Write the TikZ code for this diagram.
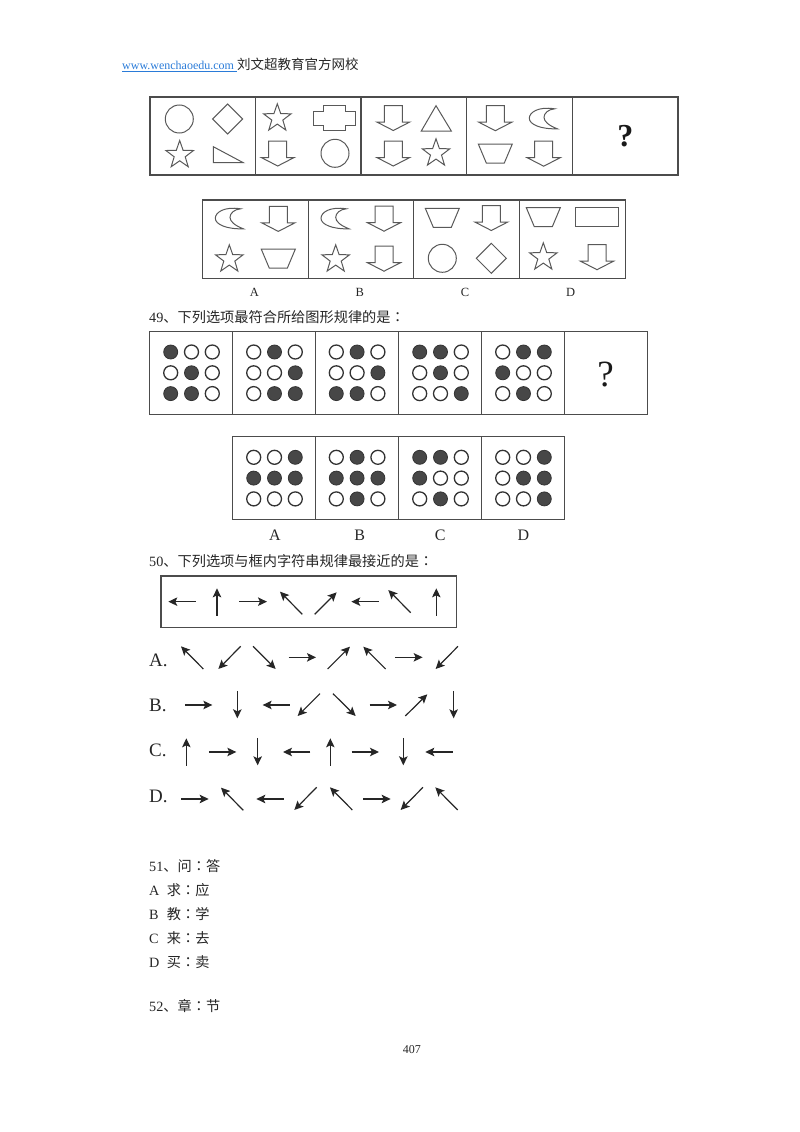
\documentclass[tikz,border=0pt]{standalone}
\usepackage{fontspec}
\setmainfont{Liberation Serif}
\newfontfamily\cjk{Noto Sans CJK SC}
\newfontfamily\cjkjp{Noto Sans CJK JP}
\newcommand\qcolon{{\cjkjp ：}}
\usetikzlibrary{arrows.meta}
\definecolor{urlblue}{HTML}{2A7BD8}
\tikzset{
  boxline/.style={draw=black!70, line width=1.2pt},
  shapeline/.style={draw=black!65, line width=1pt, line join=miter},
  thinarrow/.style={draw=black!85, line width=1.2pt, -{Stealth[length=9pt,width=8.5pt,inset=2pt]}},
  dot0/.style={draw=black!80, line width=1.3pt, fill=white},
  dot1/.style={draw=black!80, line width=0.8pt, fill=black!72},
  pagetext/.style={anchor=base west, inner sep=0pt, text=black!85, font=\fontsize{14.2}{16}\selectfont},
  optlabel/.style={anchor=base, inner sep=0pt, text=black!85, font=\fontsize{12.5}{15}\selectfont},
  optbig/.style={anchor=base, inner sep=0pt, text=black!85, font=\fontsize{16}{18}\selectfont},
  rowlabel/.style={anchor=base west, inner sep=0pt, text=black!85, font=\fontsize{19}{22}\selectfont}
}
\newcommand\qcircle[1]{\draw[shapeline] (#1) circle[radius=14pt];}
\newcommand\qdiamond[1]{\draw[shapeline,shift={(#1)}] (0,-15) -- (15,0) -- (0,15) -- (-15,0) -- cycle;}
\newcommand\qstar[1]{\draw[shapeline,shift={(#1)}] (270:14.5) -- (306:5.8) -- (342:14.5) -- (18:5.8) -- (54:14.5) -- (90:5.8) -- (126:14.5) -- (162:5.8) -- (198:14.5) -- (234:5.8) -- cycle;}
\newcommand\qarrow[1]{\draw[shapeline,shift={(#1)}] (-9,-12.5) -- (9,-12.5) -- (9,4) -- (16.5,4) -- (0,12.5) -- (-16.5,4) -- (-9,4) -- cycle;}
\newcommand\qtrap[1]{\draw[shapeline,shift={(#1)}] (-17,-9.5) -- (17,-9.5) -- (9,9.5) -- (-9,9.5) -- cycle;}
\newcommand\qmoon[1]{\draw[shapeline,shift={(#1)}] (11.3,-9.5) .. controls (-5,-12) and (-14,-6) .. (-14,0) .. controls (-14,6) and (-3,11) .. (14,10.5) .. controls (5,7) and (0.7,3) .. (0.7,-1) .. controls (0.7,-5) and (5,-9) .. (11.3,-9.5) -- cycle;}
\newcommand\dotgrid[3]{\foreach \v [count=\i from 0] in {#3} {
  \pgfmathtruncatemacro\c{mod(\i,3)}
  \pgfmathtruncatemacro\r{div(\i,3)}
  \draw[dot\v] ({#1+\c*20.8},{#2+\r*20.8}) circle[radius=7pt];
}}
\begin{document}
\begin{tikzpicture}[x=1pt,y=-1pt]
\useasboundingbox (0,0) rectangle (800,1132);

\node[pagetext] (url) at (122,70) {\textcolor{urlblue}{\fontsize{12}{16}\selectfont\underline{www.wenchaoedu.com\ }}{\fontsize{13.5}{16}\selectfont\cjk 刘文超教育官方网校}};

\draw[boxline] (150,97) rectangle (678,175);
\foreach \x in {255.7,361,466.7,572.3} \draw[boxline] (\x,97) -- (\x,175);
\qcircle{179.3,119}
\qdiamond{227.7,119}
\qstar{179.7,155}
\draw[shapeline] (213.3,146.7) -- (243.3,162.7) -- (213.3,162.7) -- cycle;
\qstar{277.3,118.3}
\draw[shapeline,shift={(334.3,118.3)}] (-10.7,-12.5) -- (10.7,-12.5) -- (10.7,-7) -- (21.3,-7) -- (21.3,7) -- (10.7,7) -- (10.7,12.5) -- (-10.7,12.5) -- (-10.7,7) -- (-21.3,7) -- (-21.3,-7) -- (-10.7,-7) -- cycle;
\qarrow{277.7,153.5}
\qcircle{335,153.3}
\qarrow{393.3,118}
\draw[shapeline] (436,105.7) -- (451.3,131) -- (421.3,131) -- cycle;
\qarrow{393.3,153.5}
\qstar{436,153.3}
\qarrow{495.3,118.2}
\qmoon{543.3,118.3}
\qtrap{495.3,153.5}
\qarrow{543.7,153.7}
\node[anchor=base, inner sep=0pt, text=black!90, font=\fontsize{32}{36}\selectfont\bfseries] (qmarka) at (625.3,146) {?};

\draw[boxline] (202.3,200) rectangle (625.7,278.3);
\foreach \x in {308.3,413.7,519.3} \draw[boxline] (\x,200) -- (\x,278.3);
\qmoon{229.3,218.3}
\qarrow{278.3,218.9}
\qstar{229.3,259.3}
\qtrap{278.3,258.7}
\qmoon{335,218.3}
\qarrow{384,218.7}
\qstar{335.7,259.3}
\qarrow{384,258.7}
\qtrap{442.3,217.8}
\qarrow{491.3,218}
\qcircle{442.3,258.3}
\qdiamond{491.3,258.3}
\qtrap{543.3,217.2}
\draw[shapeline] (575.7,207.7) rectangle (618.3,226.7);
\qstar{543.3,257.3}
\qarrow{597,257.2}
\node[optlabel] (la) at (254.3,296) {A};
\node[optlabel] (lb) at (359.7,296) {B};
\node[optlabel] (lc) at (465,296) {C};
\node[optlabel] (ld) at (570.7,296) {D};

\node[pagetext] (q49) at (149,322.5) {49{\cjk 、下列选项最符合所给图形规律的是}\qcolon};
\draw[boxline] (149.3,331.7) rectangle (647.7,414.3);
\foreach \x in {232.3,315.7,398.3,481.7,564.7} \draw[boxline] (\x,331.7) -- (\x,414.3);
\dotgrid{170.7}{352}{1,0,0,0,1,0,1,1,0}
\dotgrid{253.7}{352}{0,1,0,0,0,1,0,1,1}
\dotgrid{336.3}{352}{0,1,0,0,0,1,1,1,0}
\dotgrid{419.7}{352}{1,1,0,0,1,0,0,0,1}
\dotgrid{502.7}{352}{0,1,1,1,0,0,0,1,0}
\node[anchor=base, inner sep=0pt, text=black!90, font=\fontsize{37}{40}\selectfont] (qmarkb) at (605.7,386.5) {?};

\draw[boxline] (232.3,436.7) rectangle (564.7,519.3);
\foreach \x in {315.7,398.3,481.7} \draw[boxline] (\x,436.7) -- (\x,519.3);
\dotgrid{253.7}{457.3}{0,0,1,1,1,1,0,0,0}
\dotgrid{336.3}{457.3}{0,1,0,1,1,1,0,1,0}
\dotgrid{419.7}{457.3}{1,1,0,1,0,0,0,1,0}
\dotgrid{502.7}{457.3}{0,0,1,0,1,1,0,0,1}
\node[optbig] (da) at (275,540.5) {A};
\node[optbig] (db) at (359.7,540.5) {B};
\node[optbig] (dc) at (440.3,540.5) {C};
\node[optbig] (dd) at (523.3,540.5) {D};

\node[pagetext] (q50) at (149,566.5) {50{\cjk 、下列选项与框内字符串规律最接近的是}\qcolon};
\draw[boxline] (161,576) rectangle (456.7,627.3);
\node[rowlabel] (ra) at (149,666.7) {A.};
\node[rowlabel] (rb) at (149,711.3) {B.};
\node[rowlabel] (rc) at (149,756.7) {C.};
\node[rowlabel] (rd) at (149,802.3) {D.};

\begin{scope}[shift={(140,550)},x=0.3333pt,y=-0.3333pt]
\foreach \xa/\ya/\xb/\yb in {
  168/155/85/155, 231/197/231/115, 298/155/381/155, 487/193/420/125,
  524/193/590/127, 716/155/634/155, 812/188/745/120, 889/197/889/115,
  190/357/123/289, 302/289/235/357, 339/289/407/357, 446/322/528/322,
  563/357/630/290, 737/357/670/290, 765/322/848/322, 954/289/887/357,
  135/465/217/465, 292/423/292/505, 450/465/368/465, 540/431/473/498,
  579/431/647/498, 689/465/771/465, 796/498/862/433, 941/423/941/505,
  139/647/139/565, 207/606/289/606, 353/564/353/646, 511/606/429/606,
  571/647/571/565, 635/606/717/606, 790/564/790/646, 938/606/856/606,
  124/747/206/747, 310/781/243/713, 431/747/349/747, 530/712/463/780,
  637/780/570/712, 670/747/752/747, 849/712/782/780, 953/780/886/712}
  \draw[thinarrow] (\xa,\ya) -- (\xb,\yb);
\end{scope}

\node[pagetext] (q51) at (149,871.5) {51{\cjk 、问}\qcolon{\cjk 答}};
\node[pagetext] (q51a) at (149,895.5) {\makebox[17.7pt][l]{A}{\cjk 求}\qcolon{\cjk 应}};
\node[pagetext] (q51b) at (149,919) {\makebox[17.7pt][l]{B}{\cjk 教}\qcolon{\cjk 学}};
\node[pagetext] (q51c) at (149,943) {\makebox[17.7pt][l]{C}{\cjk 来}\qcolon{\cjk 去}};
\node[pagetext] (q51d) at (149,967) {\makebox[17.7pt][l]{D}{\cjk 买}\qcolon{\cjk 卖}};
\node[pagetext] (q52) at (149,1011.5) {52{\cjk 、章}\qcolon{\cjk 节}};
\node[pagetext, font=\fontsize{12}{14}\selectfont] (pagenum) at (402.7,1053) {407};
\end{tikzpicture}
\end{document}
